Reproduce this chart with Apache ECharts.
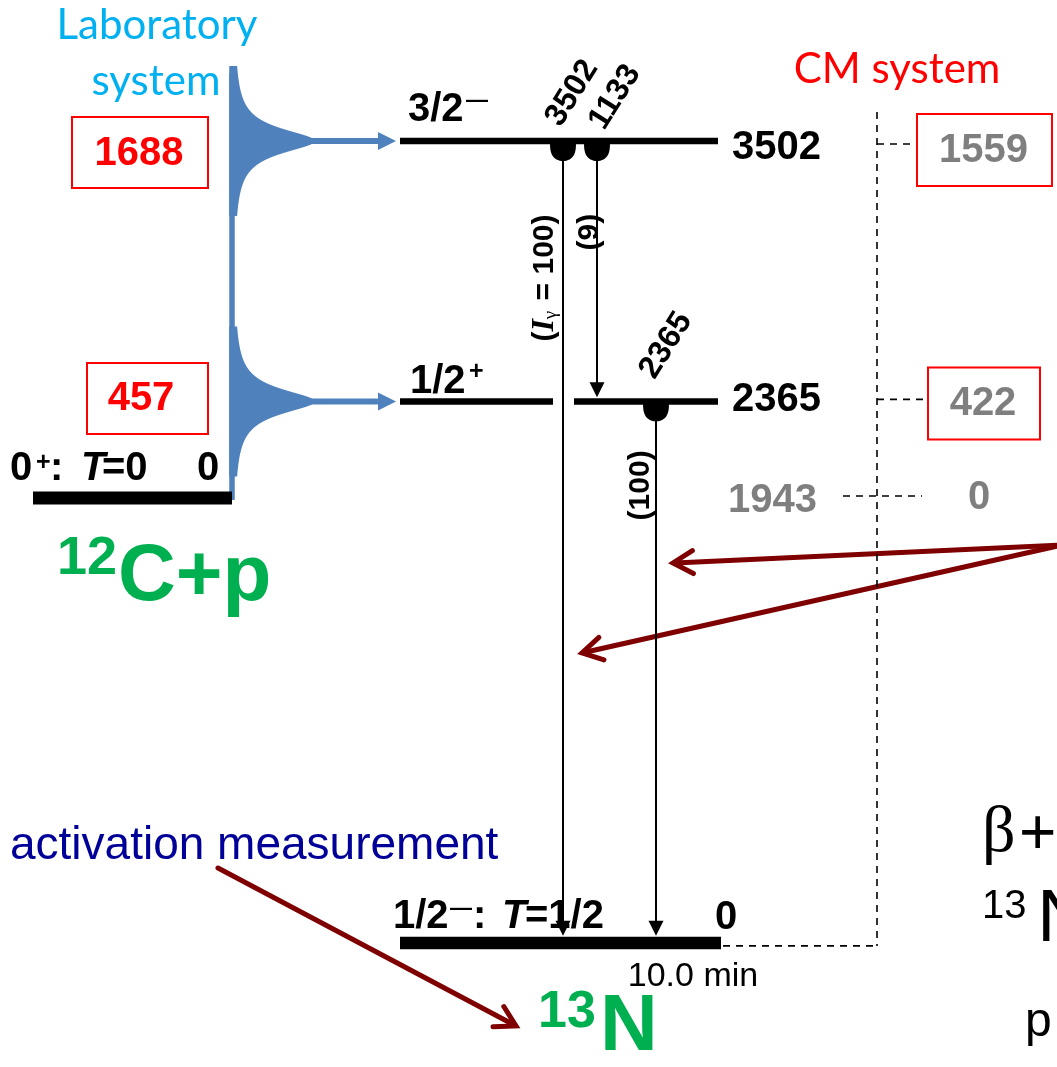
<!DOCTYPE html>
<html><head><meta charset="utf-8">
<script src="https://cdn.jsdelivr.net/npm/echarts@6/dist/echarts.min.js"></script>
<style>html,body{margin:0;padding:0;background:#fff}#c{width:1057px;height:1067px}</style>
</head><body><div id="c"></div>
<script>
// ---------------- data ----------------
const levelEnergies = [3502, 2365, 0];            // 13N levels (keV)
const levelSpins    = ['3/2', '1/2', '1/2'];
const levelParities = ['-', '+', '-'];
const levelIsospin  = ['', '', '1/2'];
const halfLife      = '10.0 min';
const thresholdEnergy = 1943;                      // 12C+p threshold (keV)
const thresholdSpin = '0', thresholdParity = '+', thresholdIsospin = '0';
const labEnergies = [1688, 457];                   // resonance energies, laboratory system
const cmEnergies  = [1559, 422];                   // resonance energies, CM system
const gammaEnergies = [3502, 1133, 2365];
const gammaFrom = [3502, 3502, 2365];
const gammaTo   = [0, 2365, 0];
const gammaIntensities = [100, 9, 100];

// ---------------- layout / style ----------------
const SANS = '"Liberation Sans", Arial, Helvetica, sans-serif';
const SERIF = '"Liberation Serif", "Times New Roman", serif';
const CAL = 'Lato, "Open Sans", sans-serif';
const B = s => `bold ${s}px ${SANS}`;
const R = s => `${s}px ${SANS}`;
const BI = s => `italic bold ${s}px ${SANS}`;
const RED = '#FF0000', GRAY = '#7F7F7F', GREEN = '#00B050', BLUE = '#4F81BD', LBLUE = '#00B0F0', NAVY = '#000099', DRED = '#7F0000';

const LEVEL_LAYOUT = [
  {x0: 400, x1: 718, w: 6.5, spinX: 408, spinDY: -31, supX: 466, supDY: -40, eX: 732, eDY: 7},
  {x0: 400, x1: 718, w: 6.5, gap: [553, 574], spinX: 410, spinDY: -19, supX: 469, supDY: -29, eX: 732, eDY: -1},
  {x0: 400, x1: 721, w: 12.5, spinX: 393, spinDY: -25.5, supX: 450, supDY: -34, colonX: 473, tX: 502, eqX: 525, eX: 715, eDY: -25, halfX: 693, halfDY: 34}
];
const THR_LAYOUT = {x0: 33, x1: 230, w: 13, lineX: 232, topDY: -68};
const RES_LAYOUT = [
  {labBox: [72, 208], labBoxDY: 11.5, labTextX: 139, labTextDY: 13, cmBox: [917, 1052], cmBoxDY: 9, cmTextX: 983.5, cmTextDY: 10, connDY: 3},
  {labBox: [87, 208], labBoxDY: -3, labTextX: 141, labTextDY: -2, cmBox: [928, 1040], cmBoxDY: 2, cmTextX: 983, cmTextDY: 3, connDY: -2}
];
const GAMMA_LAYOUT = [
  {x: 563, lblDX: 9, lblDY: -48, intDX: -18, intDY: 137},
  {x: 597, lblDX: 18, lblDY: -44, intDX: -7, intDY: 91},
  {x: 656, lblDX: 10, lblDY: -56, intDX: -15, intDY: 84}
];
const CM_X = 877;

function T(x, y, text, font, fill, align, rot, extra) {
  return {type: 'text', x: x, y: y, rotation: rot || 0, silent: true,
    style: Object.assign({text: text, x: 0, y: 0, font: font, fill: fill,
      align: align || 'left', textAlign: align || 'left', verticalAlign: 'middle', textVerticalAlign: 'middle'}, extra || {})};
}
function RECT(x, y, w, h, fill) { return {type: 'rect', shape: {x: x, y: y, width: w, height: h}, style: {fill: fill}}; }
function LINE(x1, y1, x2, y2, color, w, dash) {
  return {type: 'line', shape: {x1: x1, y1: y1, x2: x2, y2: y2}, style: {stroke: color, lineWidth: w, lineDash: dash || null, fill: null}};
}
function parityGlyph(p) { return p === '-' ? '—' : '+'; }

// ---------------- render functions ----------------
function renderThreshold(params, api) {
  const E = api.value(0);
  const L = THR_LAYOUT;
  const a = api.coord([L.x0, E]), b = api.coord([L.x1, E]);
  const y = a[1];
  const top = api.coord([0, levelEnergies[0]])[1] + L.topDY;
  const ch = [];
  ch.push(RECT(L.lineX - 2.75, top, 5.5, y - top + 2, BLUE));
  ch.push(RECT(a[0], y - L.w / 2, b[0] - a[0] + 2, L.w, '#000'));
  const ly = y - 29;
  ch.push(T(10, ly, thresholdSpin, B(40), '#000'));
  ch.push(T(36, ly - 6, thresholdParity, B(25), '#000'));
  ch.push(T(50, ly, ':', B(40), '#000'));
  ch.push(T(81, ly, 'T', BI(40), '#000'));
  ch.push(T(102, ly, '=' + thresholdIsospin, B(40), '#000'));
  ch.push(T(197, ly, '0', B(40), '#000'));
  return {type: 'group', children: ch};
}

function renderResonance(params, api) {
  const E = api.value(0), lab = api.value(1), cm = api.value(2), i = api.value(3);
  const L = RES_LAYOUT[i];
  const y = api.coord([0, E])[1];
  const x0 = THR_LAYOUT.lineX;
  const ch = [];
  // resonance profile
  const pts = [[x0 - 2.75, y - 75]];
  for (let d = -75; d <= 75; d += 1) {
    pts.push([x0 + 2 + 81 / (1 + (d / 15) * (d / 15)), y + d]);
  }
  pts.push([x0 - 2.75, y + 75]);
  ch.push({type: 'polygon', shape: {points: pts}, style: {fill: BLUE}});
  // arrow to the level
  ch.push(RECT(300, y - 3, 80, 6, BLUE));
  ch.push({type: 'polygon', shape: {points: [[396, y], [378, y - 9], [378, y + 9]]}, style: {fill: BLUE}});
  // lab box
  ch.push({type: 'rect', shape: {x: L.labBox[0], y: y + L.labBoxDY - 35.5, width: L.labBox[1] - L.labBox[0], height: 71},
    style: {fill: 'transparent', stroke: RED, lineWidth: 2}});
  ch.push(T(L.labTextX, y + L.labTextDY, String(lab), B(40), RED, 'center'));
  // CM box
  ch.push(LINE(CM_X, y + L.connDY, L.cmBox[0], y + L.connDY, '#000', 1.6, [7, 6]));
  ch.push({type: 'rect', shape: {x: L.cmBox[0], y: y + L.cmBoxDY - 36, width: L.cmBox[1] - L.cmBox[0], height: 72},
    style: {fill: '#fff', stroke: RED, lineWidth: 2}});
  ch.push(T(L.cmTextX, y + L.cmTextDY, String(cm), B(40), GRAY, 'center'));
  return {type: 'group', children: ch};
}

function renderCM(params, api) {
  const E = api.value(0);
  const y = api.coord([0, E])[1];
  const yTop = api.coord([0, levelEnergies[0]])[1] - 29;
  const yG = api.coord([0, 0])[1] + 3;
  const ch = [];
  ch.push(LINE(CM_X, yTop, CM_X, yG, '#000', 1.6, [7, 6]));
  ch.push(LINE(723, yG, CM_X, yG, '#000', 1.6, [7, 6]));
  ch.push(LINE(843, y - 2, 922, y - 2, '#000', 1.6, [7, 6]));
  ch.push(T(728, y + 3, String(E), B(40), GRAY));
  ch.push(T(979, y, '0', B(40), GRAY, 'center'));
  return {type: 'group', children: ch};
}

function renderLevel(params, api) {
  const E = api.value(0), i = api.value(1);
  const L = LEVEL_LAYOUT[i];
  const y = api.coord([0, E])[1];
  const ch = [];
  const segs = L.gap ? [[L.x0, L.gap[0]], [L.gap[1], L.x1]] : [[L.x0, L.x1]];
  segs.forEach(function (s) {
    const a = api.coord([s[0], E]), b = api.coord([s[1], E]);
    ch.push(RECT(a[0], y - L.w / 2, b[0] - a[0], L.w, '#000'));
  });
  ch.push(T(L.spinX, y + L.spinDY, levelSpins[i], B(40), '#000'));
  const par = levelParities[i];
  ch.push(T(L.supX, y + L.supDY, parityGlyph(par), par === '-' ? B(22) : B(25), '#000'));
  if (levelIsospin[i]) {
    ch.push(T(L.colonX, y + L.spinDY, ':', B(40), '#000'));
    ch.push(T(L.tX, y + L.spinDY, 'T', BI(40), '#000'));
    ch.push(T(L.eqX, y + L.spinDY, '=' + levelIsospin[i], B(40), '#000'));
  }
  ch.push(T(L.eX, y + L.eDY, String(E), B(40), '#000'));
  if (E === 0) ch.push(T(L.halfX, y + L.halfDY, halfLife, R(34), '#000', 'center'));
  return {type: 'group', children: ch};
}

function halfDot(cx, y0, rx, ry) {
  const pts = [];
  for (let k = 0; k <= 24; k++) {
    const t = Math.PI * k / 24;
    pts.push([cx + rx * Math.cos(t), y0 + ry * Math.pow(Math.sin(t), 0.6)]);
  }
  return {type: 'polygon', shape: {points: pts}, style: {fill: '#000'}};
}

function renderGamma(params, api) {
  const from = api.value(0), to = api.value(1), i = api.value(2);
  const G = GAMMA_LAYOUT[i];
  const s = api.coord([G.x, from]), e = api.coord([G.x, to]);
  const endHalf = LEVEL_LAYOUT[levelEnergies.indexOf(to)].w / 2;
  const tip = e[1] - endHalf - 1;
  const ch = [];
  ch.push(LINE(s[0], s[1], s[0], tip - 12, '#000', 2));
  ch.push({type: 'polygon', shape: {points: [[s[0], tip], [s[0] - 7.5, tip - 15], [s[0] + 7.5, tip - 15]]}, style: {fill: '#000'}});
  ch.push(halfDot(s[0], s[1], 13, 20));
  ch.push(T(s[0] + G.lblDX, s[1] + G.lblDY, String(gammaEnergies[i]), B(32), '#000', 'center', 58 * Math.PI / 180));
  const ix = s[0] + G.intDX, iy = s[1] + G.intDY;
  if (i === 0) {
    ch.push({type: 'text', x: ix, y: iy, rotation: Math.PI / 2, silent: true,
      style: {text: '{a|(}{i|I}{s|γ}{a| = ' + gammaIntensities[i] + ')}', x: 0, y: 0,
        align: 'center', verticalAlign: 'middle', fill: '#000',
        rich: {
          a: {fontSize: 30, fontWeight: 'bold', fontFamily: SANS, fill: '#000'},
          i: {fontSize: 32, fontWeight: 'bold', fontStyle: 'italic', fontFamily: SERIF, fill: '#000'},
          s: {fontSize: 19, fontFamily: SERIF, fill: '#000', verticalAlign: 'bottom', padding: [8, 2, 0, 0]}
        }}});
  } else {
    ch.push(T(ix, iy, '(' + gammaIntensities[i] + ')', B(30), '#000', 'center', Math.PI / 2));
  }
  return {type: 'group', children: ch};
}

// ---------------- annotations (pixel layout) ----------------
function arrowOpen(sx, sy, tx, ty, color, w, L, angDeg) {
  const dx = tx - sx, dy = ty - sy, len = Math.hypot(dx, dy);
  const ux = dx / len, uy = dy / len, a = angDeg * Math.PI / 180;
  const rot = (x, y, t) => [x * Math.cos(t) - y * Math.sin(t), x * Math.sin(t) + y * Math.cos(t)];
  const r1 = rot(-ux, -uy, a), r2 = rot(-ux, -uy, -a);
  return [
    {type: 'polyline', silent: true, shape: {points: [[sx, sy], [tx - ux * 2, ty - uy * 2]]}, style: {stroke: color, lineWidth: w, lineCap: 'round', fill: null}},
    {type: 'polyline', silent: true, shape: {points: [[tx + r1[0] * L, ty + r1[1] * L], [tx, ty], [tx + r2[0] * L, ty + r2[1] * L]]},
      style: {stroke: color, lineWidth: w, lineCap: 'round', lineJoin: 'miter', fill: null}}
  ];
}

const graphics = [
  T(157, 25, 'Laboratory', `42px ${CAL}`, LBLUE, 'center'),
  T(156, 81, 'system', `42px ${CAL}`, LBLUE, 'center'),
  T(897, 69, 'CM system', `42px ${CAL}`, RED, 'center'),
  T(57, 559, '12', B(54), GREEN),
  T(118, 578, 'C+p', B(80), GREEN),
  T(538, 1013, '13', B(52), GREEN),
  T(600, 1028, 'N', B(80), GREEN),
  T(10, 846, 'activation measurement', R(46), NAVY),
  T(982, 834, 'β', `66px ${SERIF}`, '#000'),
  T(1019, 836, '+', R(64), '#000'),
  T(982, 907, '13', R(40), '#000'),
  T(1037, 920, 'N', R(75), '#000'),
  T(1025, 1023, 'p', R(48), '#000')
].concat(
  arrowOpen(1062, 545, 673, 563, DRED, 5, 23, 30),
  arrowOpen(1062, 545, 582, 653, DRED, 5, 23, 30),
  arrowOpen(218, 868, 516, 1026, DRED, 5, 23, 30)
);

const chart = echarts.init(document.getElementById('c'), null, {renderer: 'canvas'});
chart.setOption({
  animation: false,
  backgroundColor: '#fff',
  grid: {left: 0, right: 0, top: 0, bottom: 0},
  xAxis: {type: 'value', min: 0, max: 1057, show: false},
  yAxis: {type: 'value', min: -542, max: 4118, show: false},
  series: [
    {type: 'custom', name: 'threshold', renderItem: renderThreshold, data: [[thresholdEnergy]], silent: true},
    {type: 'custom', name: 'resonances', renderItem: renderResonance,
      data: labEnergies.map((e, i) => [thresholdEnergy + cmEnergies[i], e, cmEnergies[i], i]), silent: true},
    {type: 'custom', name: 'cm', renderItem: renderCM, data: [[thresholdEnergy]], silent: true},
    {type: 'custom', name: 'levels', renderItem: renderLevel, data: levelEnergies.map((e, i) => [e, i]), silent: true},
    {type: 'custom', name: 'gammas', renderItem: renderGamma, data: gammaFrom.map((f, i) => [f, gammaTo[i], i]), silent: true}
  ],
  graphic: graphics
});
</script>
</body></html>
